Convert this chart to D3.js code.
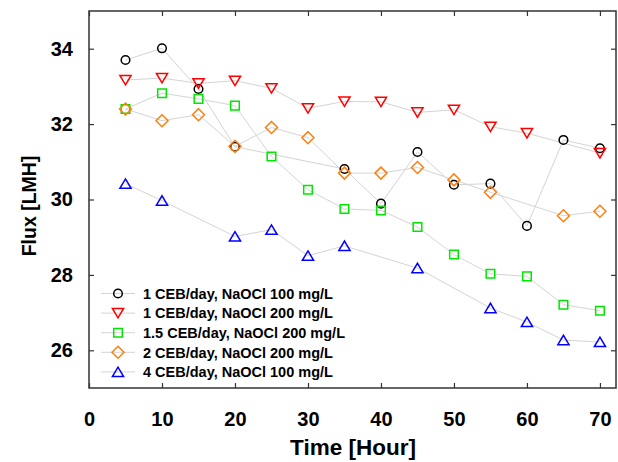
<!DOCTYPE html>
<html>
<head>
<meta charset="utf-8">
<script src="https://cdn.jsdelivr.net/npm/d3@7"></script>
<style>
  body { margin: 0; background: #fff; }
  svg { font-family: "Liberation Sans", Arial, sans-serif; font-weight: bold; }
</style>
</head>
<body>
<svg id="chart" width="618" height="462"></svg>
<script>
// data (null = no point at that time)
const hours = [5, 10, 15, 20, 25, 30, 35, 40, 45, 50, 55, 60, 65, 70];
const ceb1_100 = [33.70, 34.01, 32.93, 31.40, null, null, 30.81, 29.89, 31.26, 30.39, 30.42, 29.30, 31.58, 31.36];
const ceb1_200 = [33.17, 33.22, 33.08, 33.15, 32.95, 32.42, 32.60, 32.59, 32.31, 32.38, 31.93, 31.76, null, 31.23];
const ceb15_200 = [32.40, 32.82, 32.67, 32.49, 31.14, 30.26, 29.75, 29.71, 29.27, 28.54, 28.03, 27.96, 27.21, 27.05];
const ceb2_200 = [32.40, 32.09, 32.25, 31.41, 31.91, 31.64, 30.70, 30.70, 30.85, 30.52, 30.19, null, 29.57, 29.69];
const ceb4_100 = [30.42, 29.97, null, 29.02, 29.20, 28.51, 28.77, null, 28.18, null, 27.12, 26.75, 26.27, 26.22];
const xTicks = [0, 10, 20, 30, 40, 50, 60, 70];
const yTicks = [26, 28, 30, 32, 34];

const series = [
    { name: '1 CEB/day, NaOCl 100 mg/L', values: ceb1_100, color: '#000000', shape: 'circle' },
    { name: '1 CEB/day, NaOCl 200 mg/L', values: ceb1_200, color: '#ff0000', shape: 'down' },
    { name: '1.5 CEB/day, NaOCl 200 mg/L', values: ceb15_200, color: '#00e600', shape: 'square' },
    { name: '2 CEB/day, NaOCl 200 mg/L', values: ceb2_200, color: '#ff7f0e', shape: 'diamond' },
    { name: '4 CEB/day, NaOCl 100 mg/L', values: ceb4_100, color: '#0000ff', shape: 'up' }
];

const svg = d3.select('#chart');
const plotL = 89, plotR = 616, plotT = 11, plotB = 388;

const x = d3.scaleLinear().domain([0, 72.2]).range([plotL, plotR]);
const y = d3.scaleLinear().domain([25, 35]).range([plotB, plotT]);

function shapePath(shape) {
    if (shape === 'circle') return 'M4.3,0A4.3,4.3,0,1,1,-4.3,0A4.3,4.3,0,1,1,4.3,0Z';
    if (shape === 'square') return 'M-4.3,-4.3H4.3V4.3H-4.3Z';
    if (shape === 'diamond') return 'M0,-6L6,0L0,6L-6,0Z';
    if (shape === 'down') return 'M-5.6,-4.6H5.6L0,4.8Z';
    return 'M-5.6,4.6H5.6L0,-4.8Z';
}

// connecting lines
const line = d3.line().x((d) => x(d.t)).y((d) => y(d.v));
series.forEach((s) => {
    s.points = hours.map((t, i) => ({ t: t, v: s.values[i] })).filter((d) => d.v !== null);
    svg.append('path')
        .attr('d', line(s.points))
        .attr('fill', 'none')
        .attr('stroke', '#d4d4d4')
        .attr('stroke-width', 1);
});

// markers
series.forEach((s) => {
    svg.append('g').selectAll('path')
        .data(s.points)
        .enter()
        .append('path')
        .attr('transform', (d) => `translate(${x(d.t)},${y(d.v)})`)
        .attr('d', shapePath(s.shape))
        .attr('fill', 'none')
        .attr('stroke', s.color)
        .attr('stroke-width', 1.5);
});

// axes (ticks inward on all four sides)
const ax = svg.append('g').attr('transform', `translate(0,${plotB})`)
    .call(d3.axisBottom(x).tickValues(xTicks).tickSizeInner(-5).tickSizeOuter(0).tickPadding(24));
const axT = svg.append('g').attr('transform', `translate(0,${plotT})`)
    .call(d3.axisTop(x).tickValues(xTicks).tickSizeInner(-5).tickSizeOuter(0).tickFormat(''));
const ay = svg.append('g').attr('transform', `translate(${plotL},0)`)
    .call(d3.axisLeft(y).tickValues(yTicks).tickSizeInner(-5).tickSizeOuter(0).tickPadding(16));
const ayR = svg.append('g').attr('transform', `translate(${plotR},0)`)
    .call(d3.axisRight(y).tickValues(yTicks).tickSizeInner(-5).tickSizeOuter(0).tickFormat(''));

[ax, axT, ay, ayR].forEach((g) => {
    g.select('.domain').remove();
    g.selectAll('line').attr('stroke', '#333').attr('stroke-width', 1.2);
    g.selectAll('text')
        .attr('fill', '#000')
        .style('font-family', '"Liberation Sans", Arial, sans-serif')
        .style('font-weight', 'bold')
        .style('font-size', '20px');
});

svg.append('rect')
    .attr('x', plotL).attr('y', plotT)
    .attr('width', plotR - plotL).attr('height', plotB - plotT)
    .attr('fill', 'none')
    .attr('stroke', '#333')
    .attr('stroke-width', 1.5);

// axis titles
svg.append('text')
    .attr('x', 353).attr('y', 455)
    .attr('text-anchor', 'middle')
    .style('font-size', '22.5px')
    .text('Time [Hour]');

svg.append('text')
    .attr('transform', 'translate(36,206) rotate(-90)')
    .attr('text-anchor', 'middle')
    .style('font-size', '19.5px')
    .text('Flux [LMH]');

// legend
const legend = svg.append('g');
series.forEach((s, i) => {
    const ly = 293.5 + i * 19.6;
    legend.append('line')
        .attr('x1', 101).attr('x2', 135)
        .attr('y1', ly).attr('y2', ly)
        .attr('stroke', '#d4d4d4')
        .attr('stroke-width', 1);
    legend.append('path')
        .attr('transform', `translate(118,${ly})`)
        .attr('d', shapePath(s.shape))
        .attr('fill', 'none')
        .attr('stroke', s.color)
        .attr('stroke-width', 1.5);
    legend.append('text')
        .attr('x', 143).attr('y', ly)
        .attr('dy', '0.36em')
        .style('font-size', '14.5px')
        .text(s.name);
});
</script>
</body>
</html>
